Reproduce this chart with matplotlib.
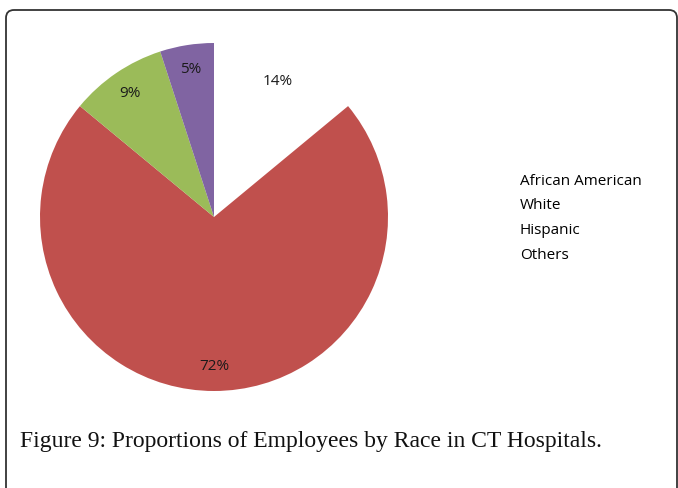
import matplotlib
matplotlib.use("Agg")
import matplotlib.pyplot as plt
from matplotlib.patches import FancyBboxPatch

# Data
groups = ['African American', 'White', 'Hispanic', 'Others']
shares = [14, 72, 9, 5]
colors = ['#FFFFFF', '#C0504D', '#9BBB59', '#8064A2']
caption = 'Figure 9: Proportions of Employees by Race in CT Hospitals.'

W, H = 678, 488
fig = plt.figure(figsize=(W / 100, H / 100), dpi=100)

# Pie axes: centre (214, 217) px, radius 174 px
cx, cy, r = 214, 217, 174
ax = fig.add_axes([(cx - r) / W, (H - cy - r) / H, 2 * r / W, 2 * r / H])
wedges, texts, autotexts = ax.pie(
    shares, colors=colors, startangle=90, counterclock=False,
    autopct='%d%%', pctdistance=0.86,
    wedgeprops=dict(linewidth=0),
    textprops=dict(family='Open Sans', fontsize=11, color='#1a1a1a'))
ax.set_aspect('equal')
ax.set_xlim(-1, 1)
ax.set_ylim(-1, 1)

# Legend, text only
fig.legend(wedges, groups, loc='upper left',
           bbox_to_anchor=(506 / W, 1 - 160 / H),
           handlelength=0, handletextpad=0, frameon=False,
           labelspacing=0.63,
           prop=dict(family='Open Sans', size=11))
for h in fig.legends[0].legend_handles:
    h.set_visible(False)

# Caption
fig.text(20 / W, 1 - 441 / H, caption, family='Liberation Serif',
         fontsize=17, va='center', ha='left', color='#111111')

# Rounded frame
frame = FancyBboxPatch((0.06, -0.2), 6.71, 4.98,
                       boxstyle='round,pad=0,rounding_size=0.08',
                       transform=fig.dpi_scale_trans, fill=False,
                       edgecolor='#333333', linewidth=1.3)
fig.patches.append(frame)

fig.savefig('out.png', dpi=100)
